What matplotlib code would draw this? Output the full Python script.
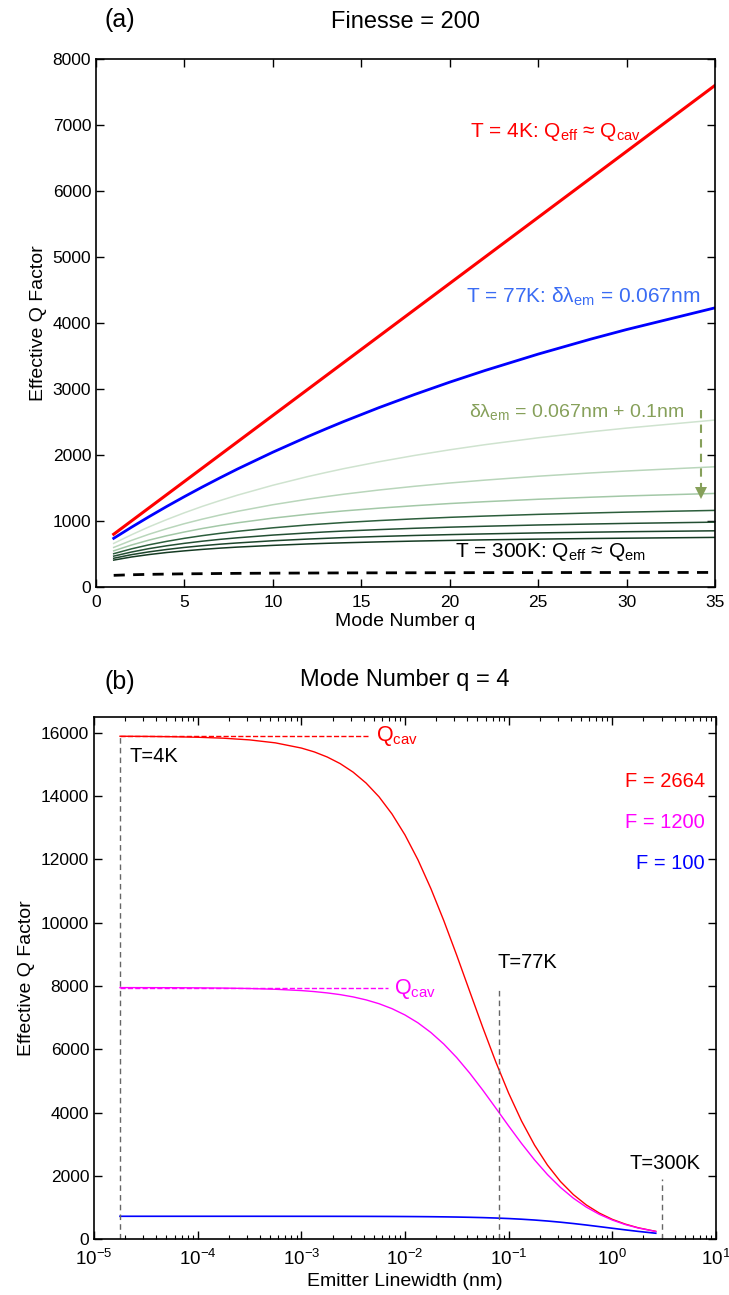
import matplotlib

matplotlib.use("Agg")

import matplotlib.pyplot as plt

plt.rcParams["font.family"] = ["Liberation Sans", "DejaVu Sans"]
plt.rcParams["mathtext.fontset"] = "custom"
plt.rcParams["mathtext.rm"] = "Liberation Sans"
plt.rcParams["mathtext.it"] = "Liberation Sans:italic"

# ---- panel (a): Q vs mode number, finesse 200 ----
MODE_Q = [1, 2, 3, 4, 5, 6, 7, 8, 10, 12, 13, 14, 16, 18, 20, 22, 25, 28, 30, 35]
Q_4K = [800, 1000, 1200, 1400, 1600, 1800, 2000, 2200, 2600, 3000, 3200, 3400, 3800,
        4200, 4600, 5000, 5600, 6200, 6600, 7600]
Q_77K = [738, 905, 1066, 1221, 1370, 1514, 1653, 1788, 2043, 2282, 2396, 2507, 2718,
         2916, 3104, 3281, 3529, 3758, 3901, 4230]
Q_BROAD = [
    [661, 791, 912, 1022, 1125, 1221, 1309, 1392, 1542, 1675, 1735, 1793, 1898, 1993, 2079, 2157, 2261, 2353, 2408, 2530],
    [600, 706, 800, 884, 960, 1028, 1090, 1147, 1247, 1332, 1370, 1406, 1470, 1526, 1576, 1620, 1679, 1729, 1758, 1822],
    [548, 636, 711, 777, 834, 886, 932, 973, 1044, 1103, 1129, 1153, 1195, 1232, 1265, 1293, 1330, 1361, 1380, 1418],
    [505, 578, 640, 692, 738, 778, 813, 844, 897, 941, 959, 977, 1007, 1033, 1056, 1075, 1101, 1122, 1135, 1161],
    [468, 530, 582, 625, 662, 694, 722, 746, 787, 820, 835, 848, 870, 890, 907, 921, 940, 955, 964, 983],
    [436, 490, 533, 569, 600, 626, 649, 668, 701, 727, 738, 749, 766, 781, 794, 805, 820, 831, 838, 852],
    [408, 455, 492, 523, 548, 570, 589, 605, 631, 653, 662, 670, 684, 696, 706, 715, 726, 735, 740, 752],
]
BROAD_COLORS = ["#cfe3cf", "#b9d6bb", "#a3c8a7", "#2c5e3c", "#234f33", "#1c452b", "#153b23"]
Q_300K = [177, 186, 192, 196, 200, 202, 205, 207, 210, 212, 213, 214, 215, 216, 217,
          218, 219, 220, 220, 221]

# ---- panel (b): Q vs emitter linewidth, q = 4 ----
LINEWIDTH_NM = [1.78e-5, 3.16e-5, 5.62e-5, 1e-4, 1.78e-4, 3.16e-4, 5.62e-4, 1e-3,
                1.334e-3, 1.78e-3, 2.371e-3, 3.16e-3, 4.217e-3, 5.62e-3, 7.499e-3,
                1e-2, 1.334e-2, 1.78e-2, 2.371e-2, 3.16e-2, 4.217e-2, 5.62e-2,
                7.499e-2, 0.1, 0.1334, 0.178, 0.2371, 0.316, 0.4217, 0.562, 0.7499,
                1.0, 1.334, 1.78, 2.63]
Q_F2664 = [15893, 15888, 15878, 15861, 15831, 15778, 15684, 15520, 15398, 15236, 15028,
           14759, 14413, 13979, 13435, 12775, 11988, 11075, 10063, 8968, 7826, 6697,
           5610, 4614, 3730, 2969, 2338, 1821, 1405, 1078, 822, 624, 473, 357, 243]
Q_F1200 = [7948, 7947, 7945, 7940, 7933, 7919, 7895, 7854, 7822, 7780, 7726, 7654, 7560,
           7439, 7282, 7083, 6835, 6528, 6163, 5734, 5244, 4712, 4147, 3576, 3021, 2502,
           2038, 1634, 1291, 1010, 782, 601, 459, 349, 240]
Q_F100 = [720, 720, 720, 720, 720, 720, 719.6, 719.2, 718.9, 718.6, 718.1, 717.5, 716.7,
          715.5, 714.1, 712.1, 709.5, 706.1, 701.6, 695.7, 687.9, 678.0, 664.8, 648.2,
          627.3, 601.4, 570.2, 533.3, 490.7, 443.8, 393.3, 341.6, 290.6, 242.2, 183.9]
QCAV_F2664 = 15900
QCAV_F1200 = 7950
T_LABELS = ["T=4K", "T=77K", "T=300K"]
T_LINEWIDTHS = [1.78e-5, 0.08, 3.05]
T_GUIDE_TOPS = [15950, 7950, 1900]

RED = "#ff0000"
BLUE = "#0000ff"
MAGENTA = "#ff00ff"
OLIVE = "#86a05a"
GUIDE = "#666666"


def style_axes(ax, xpad=4, xsize=12.5):
    ax.tick_params(direction="in", which="major", top=True, right=True,
                   length=6, width=1, labelsize=12.5)
    ax.tick_params(axis="x", which="major", pad=xpad, labelsize=xsize)
    ax.tick_params(direction="in", which="minor", top=True, right=True,
                   length=3, width=0.8)
    for s in ax.spines.values():
        s.set_linewidth(1.2)


fig = plt.figure(figsize=(7.29, 12.95), dpi=100)

# panel (a)
ax = fig.add_axes([0.1317, 0.5467, 0.849, 0.4077])
ax.plot(MODE_Q, Q_4K, color=RED, lw=2.2)
ax.plot(MODE_Q, Q_77K, color=BLUE, lw=2.0)
for vals, c in zip(Q_BROAD, BROAD_COLORS):
    ax.plot(MODE_Q, vals, color=c, lw=1.1)
ax.plot(MODE_Q, Q_300K, color="black", lw=2.0, ls=(0, (4, 3)))
ax.set_xlim(0, 35)
ax.set_ylim(0, 8000)
ax.set_xticks(range(0, 36, 5))
ax.set_yticks(range(0, 8001, 1000))
ax.set_xlabel("Mode Number q", fontsize=14, labelpad=2)
ax.set_ylabel("Effective Q Factor", fontsize=14, labelpad=4)
ax.set_title("Finesse = 200", fontsize=17, pad=22)
style_axes(ax, xpad=6)

ax.text(30.8, 6900, r"T = 4K: Q$_\mathregular{eff}$ ≈ Q$_\mathregular{cav}$",
        color=RED, fontsize=15, ha="right", va="center")
ax.text(20.9, 4390, r"T = 77K: δλ$_\mathregular{em}$ = 0.067nm",
        color="#3a6cf4", fontsize=15, ha="left", va="center")
ax.text(21.1, 2650, r"δλ$_\mathregular{em}$ = 0.067nm + 0.1nm",
        color=OLIVE, fontsize=14, ha="left", va="center")
ax.text(20.3, 530, r"T = 300K: Q$_\mathregular{eff}$ ≈ Q$_\mathregular{em}$",
        color="black", fontsize=15, ha="left", va="center")
ax.plot([34.2, 34.2], [2680, 1480], color=OLIVE, lw=1.5, ls=(0, (4, 3)))
ax.plot([34.2], [1420], marker="v", color=OLIVE, ms=8, mew=0)

fig.text(0.165, 0.9846, "(a)", fontsize=18, ha="center", va="center")

# panel (b)
bx = fig.add_axes([0.129, 0.0432, 0.853, 0.4031])
bx.set_xscale("log")
bx.plot(LINEWIDTH_NM, Q_F2664, color=RED, lw=1.0)
bx.plot(LINEWIDTH_NM, Q_F1200, color=MAGENTA, lw=1.0)
bx.plot(LINEWIDTH_NM, Q_F100, color=BLUE, lw=1.2)
bx.plot([LINEWIDTH_NM[0], 4.4e-3], [QCAV_F2664, QCAV_F2664], color=RED, lw=1.0, ls="--")
bx.plot([LINEWIDTH_NM[0], 6.8e-3], [QCAV_F1200, QCAV_F1200], color=MAGENTA, lw=1.0, ls="--")
for x, top in zip(T_LINEWIDTHS, T_GUIDE_TOPS):
    bx.plot([x, x], [0, top], color=GUIDE, lw=1.0, ls=(0, (4, 3)))
bx.text(2.2e-5, 15250, T_LABELS[0], fontsize=14.5, ha="left", va="center")
bx.text(0.079, 8750, T_LABELS[1], fontsize=14.5, ha="left", va="center")
bx.text(1.48, 2400, T_LABELS[2], fontsize=14.5, ha="left", va="center")
bx.text(5.2e-3, 15900, r"Q$_\mathregular{cav}$", color=RED, fontsize=15.5, ha="left", va="center")
bx.text(7.9e-3, 7900, r"Q$_\mathregular{cav}$", color=MAGENTA, fontsize=15.5, ha="left", va="center")
bx.text(7.8, 14460, "F = 2664", color=RED, fontsize=14.5, ha="right", va="center")
bx.text(7.8, 13160, "F = 1200", color=MAGENTA, fontsize=14.5, ha="right", va="center")
bx.text(7.8, 11870, "F = 100", color=BLUE, fontsize=14.5, ha="right", va="center")
bx.set_xlim(1e-5, 10)
bx.set_ylim(0, 16500)
bx.set_yticks(range(0, 16001, 2000))
bx.set_xlabel("Emitter Linewidth (nm)", fontsize=14, labelpad=3)
bx.set_ylabel("Effective Q Factor", fontsize=14, labelpad=4)
bx.set_title("Mode Number q = 4", fontsize=17, pad=22)
style_axes(bx, xpad=7, xsize=13.5)

fig.text(0.165, 0.4734, "(b)", fontsize=18, ha="center", va="center")

fig.savefig("out.png", dpi=100)
